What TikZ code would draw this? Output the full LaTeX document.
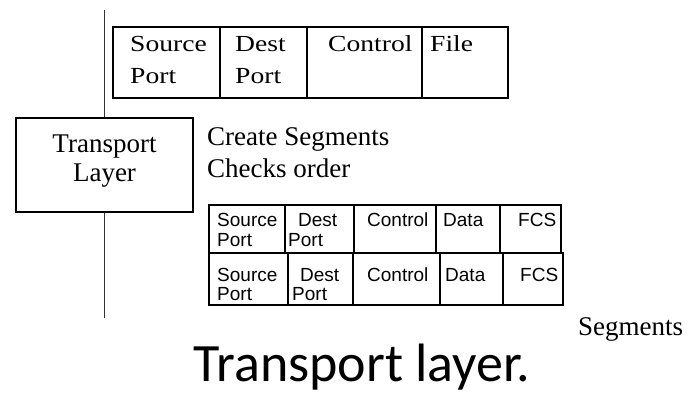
\documentclass[tikz,border=0pt]{standalone}
\usepackage{fontspec}
\setmainfont{Liberation Serif}
\newfontfamily\serifw[FakeStretch=1.2]{Liberation Serif}
\newfontfamily\sansf{Liberation Sans}
\newfontfamily\titlef{Carlito}
\begin{document}
\begin{tikzpicture}[x=1pt,y=-1pt,
  bigtxt/.style={anchor=base west,inner sep=0pt,font=\fontsize{27}{28}\selectfont},
  bigc/.style={anchor=base,inner sep=0pt,font=\fontsize{27}{28}\selectfont},
  toptxt/.style={anchor=base west,inner sep=0pt,font=\serifw\fontsize{23}{24}\selectfont},
  segtxt/.style={anchor=base west,inner sep=0pt,font=\sansf\fontsize{19}{20}\selectfont},
  frame/.style={draw=black,line width=1.3pt},
  thicksep/.style={draw=black,line width=2.6pt},
  thinsep/.style={draw=black,line width=1.3pt},
  vline/.style={draw=black!80,line width=1.4pt}]
\useasboundingbox (0,0) rectangle (688,393);

% vertical line and transport layer box
\coordinate (ltop) at (104.5,10);
\coordinate (lbot) at (104.5,318);
\node[frame,fill=white,minimum width=177pt,minimum height=94pt,inner sep=0pt] (tlbox) at (104.5,165) {};
\draw[vline] (ltop) -- (tlbox.north);
\draw[vline] (tlbox.south) -- (lbot);
\node[bigc] (tl1) at (104.5,153) {Transport};
\node[bigc] (tl2) at (104.5,181) {Layer};

% descriptions
\node[bigtxt] (create) at (207,146) {Create Segments};
\node[bigtxt] (checks) at (207,178) {Checks order};
\node[bigtxt] (segs) at (578,335) {Segments};

% top table
\draw[frame] (113,27) rectangle (508,98);
\draw[thinsep] (220,27) -- (220,98);
\draw[thicksep] (307,27) -- (307,98);
\draw[thinsep] (422,27) -- (422,98);
\node[toptxt] (ts1) at (130,52) {Source};
\node[toptxt] (ts2) at (130,84) {Port};
\node[toptxt] (td1) at (235,52) {Dest};
\node[toptxt] (td2) at (235,84) {Port};
\node[toptxt] (tc) at (328,52) {Control};
\node[toptxt] (tf) at (430,52) {File};

% segment row 1
\draw[frame] (209,205) rectangle (561,253);
\draw[thicksep] (285,205) -- (285,253);
\draw[thicksep] (354,205) -- (354,253);
\draw[thicksep] (436,205) -- (436,253);
\draw[thinsep] (500,205) -- (500,253);
\node[segtxt] (a1) at (217,226) {Source};
\node[segtxt] (a2) at (217,246) {Port};
\node[segtxt] (a3) at (298,226) {Dest};
\node[segtxt] (a4) at (288,246) {Port};
\node[segtxt] (a5) at (367,226) {Control};
\node[segtxt] (a6) at (443,226) {Data};
\node[segtxt] (a7) at (518,226) {FCS};

% segment row 2
\draw[frame] (209,253) rectangle (563,305);
\draw[thicksep] (288,253) -- (288,305);
\draw[thinsep] (353,253) -- (353,305);
\draw[thicksep] (440,253) -- (440,305);
\draw[thicksep] (503,253) -- (503,305);
\node[segtxt] (b1) at (217,281) {Source};
\node[segtxt] (b2) at (217,300) {Port};
\node[segtxt] (b3) at (300,281) {Dest};
\node[segtxt] (b4) at (292,300) {Port};
\node[segtxt] (b5) at (367,281) {Control};
\node[segtxt] (b6) at (445,281) {Data};
\node[segtxt] (b7) at (520,281) {FCS};

% caption
\node[anchor=base,inner sep=0pt,font=\titlef\fontsize{54}{60}\selectfont] (title) at (362,381) {Transport layer.};
\end{tikzpicture}
\end{document}
